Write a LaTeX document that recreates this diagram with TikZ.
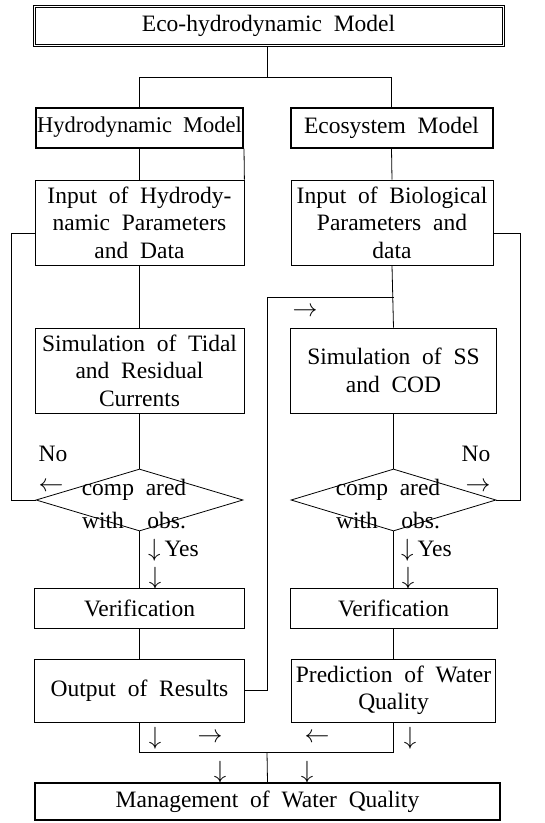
\documentclass[tikz,border=0pt]{standalone}
\usepackage{fontspec}
\setmainfont{Liberation Serif}
\usetikzlibrary{shapes.geometric}
\newcommand{\widesp}{\spaceskip=0.5em\relax}
\begin{document}
\begin{tikzpicture}[x=1pt,y=-1pt,
  every node/.style={font=\fontsize{23.5}{27.5}\selectfont, inner sep=0pt, execute at begin node=\widesp},
  box/.style={draw, line width=0.8pt, align=center},
  bbox/.style={draw, line width=2pt, align=center},
  dia/.style={draw, diamond, line width=0.8pt, aspect=3.3},
  lbl/.style={align=center},
  ln/.style={line width=0.8pt}]
\useasboundingbox (0,0) rectangle (545,823);

% boxes
\node[draw, line width=0.8pt, minimum width=471pt, minimum height=41pt] (top) at (268.5,25.5) {Eco-hydrodynamic Model};
\draw[line width=0.8pt] ([xshift=2.5pt,yshift=-2.5pt]top.north west) rectangle ([xshift=-2.5pt,yshift=2.5pt]top.south east);
\node[bbox, minimum width=207pt, minimum height=40pt, font=\fontsize{22.5}{26}\selectfont] (hm) at (139.5,127.5) {Hydrodynamic Model};
\node[bbox, minimum width=202pt, minimum height=40pt] (em) at (391.5,127.5) {Ecosystem Model};
\node[box, minimum width=209pt, minimum height=85pt] (in1) at (139.5,222.5) {Input of Hydrody-\\namic Parameters\\and Data};
\node[box, minimum width=202pt, minimum height=85pt] (in2) at (392,222.5) {Input of Biological\\Parameters and\\data};
\node[box, minimum width=209pt, minimum height=85pt] (sim1) at (139.5,370.5) {Simulation of Tidal\\and Residual\\Currents};
\node[box, minimum width=206pt, minimum height=85pt] (sim2) at (393.5,370.5) {Simulation of SS\\and COD};
\node[dia, minimum width=207pt, minimum height=62pt] (d1) at (139.5,500) {};
\node[dia, minimum width=205pt, minimum height=62pt] (d2) at (393.5,500) {};
\node[lbl, font=\fontsize{23.5}{33}\selectfont] (d1t) at (134,504) {comp\enspace ared\\with\enspace\enspace obs.};
\node[lbl, font=\fontsize{23.5}{33}\selectfont] (d2t) at (388,504) {comp\enspace ared\\with\enspace\enspace obs.};
\node[box, minimum width=210pt, minimum height=40pt] (ver1) at (139.5,608) {Verification};
\node[box, minimum width=207pt, minimum height=40pt] (ver2) at (393.5,608) {Verification};
\node[box, minimum width=210pt, minimum height=63pt] (out) at (139.5,690.5) {Output of Results};
\node[box, minimum width=204pt, minimum height=63pt] (pred) at (393.5,690.5) {Prediction of Water\\Quality};
\node[bbox, minimum width=465pt, minimum height=37pt] (mgmt) at (267.5,801.5) {Management of Water Quality};

% junction coordinates
\coordinate (bar) at (267,77);
\coordinate (midtop) at (267,297);
\coordinate (mj) at (393.5,297);
\coordinate (bj) at (267,752);

% connectors
\draw[ln] (top.south -| bar) -- (bar);
\draw[ln] (hm.north) -- (hm.north |- bar) -- (em.north |- bar) -- (em.north);
\draw[ln] (hm.south) -- (in1.north);
\draw[ln] (hm.south east) -- (in1.north east);
\draw[ln] (em.south) -- (in2.north);
\draw[ln] (in1.south) -- (sim1.north);
\draw[ln] (in2.south) -- (sim2.north);
\draw[ln] (sim1.south) -- (d1.north);
\draw[ln] (sim2.south) -- (d2.north);
\draw[ln] (d1.south) -- (ver1.north);
\draw[ln] (d2.south) -- (ver2.north);
\draw[ln] (ver1.south) -- (out.north);
\draw[ln] (ver2.south) -- (pred.north);
\draw[ln] ([yshift=-10.5pt]in1.west) -- ++(-23,0) |- (d1.west);
\draw[ln] ([yshift=-10.5pt]in2.east) -- ++(27,0) |- (d2.east);
\draw[ln] (out.east) -| (midtop) -- (mj);
\draw[ln] (out.south) |- (bj) -| (pred.south);
\draw[ln] (bj) -- (mgmt.north);

% labels
\node (a1) at (305,312) {$\rightarrow$};
\node (no1) at (53,454) {No};
\node (a2) at (51,487) {$\leftarrow$};
\node (no2) at (476,454) {No};
\node (a3) at (478,487) {$\rightarrow$};
\node[anchor=west] (y1) at (148,550) {$\downarrow$\,Yes};
\node (a4) at (155,578) {$\downarrow$};
\node[anchor=west] (y2) at (401,550) {$\downarrow$\,Yes};
\node (a5) at (408,578) {$\downarrow$};
\node (b1) at (155,738) {$\downarrow$};
\node (b2) at (210,738) {$\rightarrow$};
\node (b3) at (317,738) {$\leftarrow$};
\node (b4) at (410,738) {$\downarrow$};
\node (b5) at (220,772) {$\downarrow$};
\node (b6) at (307,772) {$\downarrow$};
\end{tikzpicture}
\end{document}
